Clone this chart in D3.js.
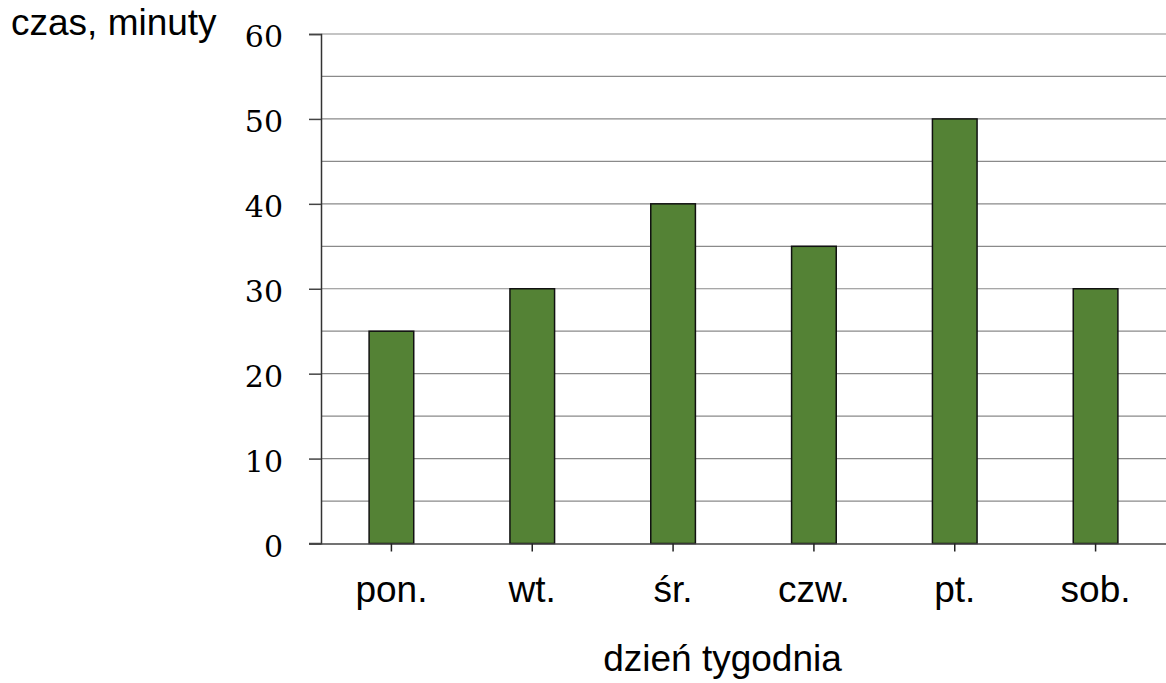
<!DOCTYPE html>
<html>
<head>
<meta charset="utf-8">
<script src="https://cdn.jsdelivr.net/npm/d3@7"></script>
<style>
    body { margin: 0; background: #fff; }
    svg { display: block; }
</style>
</head>
<body>
<div id="chart"></div>
<script>
let days = ["pon.", "wt.", "śr.", "czw.", "pt.", "sob."];
let minutes = [25, 30, 40, 35, 50, 30];
let yTicks = [0, 10, 20, 30, 40, 50, 60];
let yGrid = [5, 10, 15, 20, 25, 30, 35, 40, 45, 50, 55, 60];

let width = 1166, height = 683;
let plotLeft = 321, plotRight = 1166, plotTop = 34, plotBottom = 543.5;

let svg = d3.select("#chart").append("svg")
    .attr("width", width)
    .attr("height", height);

let x = d3.scaleBand()
    .domain(days)
    .range([plotLeft, plotRight])
    .padding(0);

let y = d3.scaleLinear()
    .domain([0, 60])
    .range([plotBottom, plotTop]);

let barWidth = x.bandwidth() * 0.317;

// gridlines every 5 minutes
svg.append("g")
    .selectAll("line")
    .data(yGrid)
    .enter().append("line")
    .attr("x1", plotLeft)
    .attr("x2", plotRight)
    .attr("y1", d => y(d))
    .attr("y2", d => y(d))
    .attr("stroke", "#8a8a8a")
    .attr("stroke-width", 1.2);

// bars
svg.append("g")
    .selectAll("rect")
    .data(minutes)
    .enter().append("rect")
    .attr("x", (d, i) => x(days[i]) + x.bandwidth() / 2 - barWidth / 2)
    .attr("y", d => y(d))
    .attr("width", barWidth)
    .attr("height", d => y(0) - y(d))
    .attr("fill", "#548235")
    .attr("stroke", "#111")
    .attr("stroke-width", 1.5);

// y axis
let yAxis = d3.axisLeft(y)
    .tickValues(yTicks)
    .tickSize(12)
    .tickPadding(26)
    .tickFormat(d3.format("d"));

let yg = svg.append("g")
    .attr("transform", "translate(" + plotLeft + ",0)")
    .call(yAxis);
yg.select(".domain").attr("stroke", "#333").attr("stroke-width", 1.5);
yg.selectAll(".tick line").attr("stroke", "#444").attr("stroke-width", 1.5);
yg.selectAll(".tick text")
    .attr("fill", "#000")
    .style("font-family", "'DejaVu Serif', serif")
    .style("font-size", "30px")
    .attr("dy", "0.42em");

// x axis
let xAxis = d3.axisBottom(x)
    .tickSize(8)
    .tickSizeOuter(0);

let xg = svg.append("g")
    .attr("transform", "translate(0," + plotBottom + ")")
    .call(xAxis);
xg.select(".domain").attr("stroke", "#444").attr("stroke-width", 1.5);
xg.selectAll(".tick line").attr("stroke", "#222").attr("stroke-width", 1.5);
xg.selectAll(".tick text")
    .attr("fill", "#000")
    .attr("y", 58)
    .attr("dy", null)
    .style("font-family", "'Liberation Sans', Arial, sans-serif")
    .style("font-size", "37px");

// baseline extends left to the tick length
svg.append("line")
    .attr("x1", plotLeft - 12)
    .attr("x2", plotLeft)
    .attr("y1", plotBottom)
    .attr("y2", plotBottom)
    .attr("stroke", "#444")
    .attr("stroke-width", 1.5);

// axis titles
svg.append("text")
    .attr("x", 11)
    .attr("y", 35)
    .style("font-family", "'Liberation Sans', Arial, sans-serif")
    .style("font-size", "37px")
    .text("czas, minuty");

svg.append("text")
    .attr("x", 722.5)
    .attr("y", 671)
    .attr("text-anchor", "middle")
    .style("font-family", "'Liberation Sans', Arial, sans-serif")
    .style("font-size", "37px")
    .text("dzień tygodnia");
</script>
</body>
</html>
